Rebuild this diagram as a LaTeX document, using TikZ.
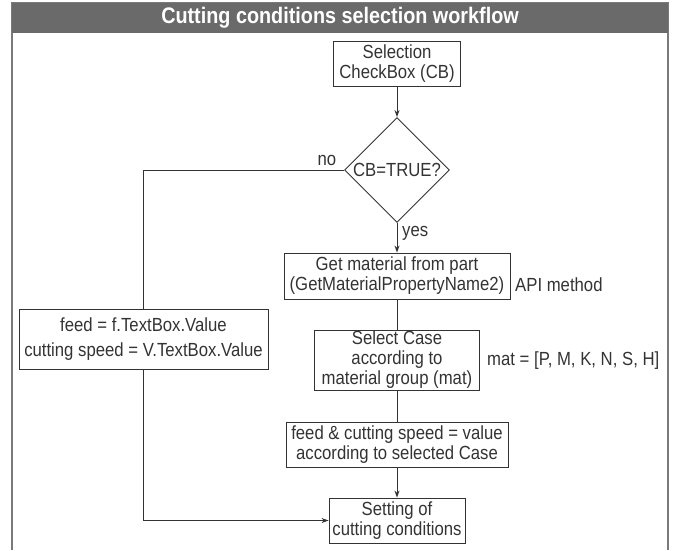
\documentclass[tikz,border=0pt]{standalone}
\usepackage{fontspec}
\setmainfont{Liberation Sans}[FakeStretch=0.88]
\usetikzlibrary{arrows.meta,shapes.geometric}
\definecolor{headgray}{HTML}{6A6A6A}
\definecolor{framegray}{HTML}{7A7A7A}
\definecolor{linegray}{HTML}{333333}
\tikzset{
  flowbox/.style={draw=linegray, line width=0.9pt, align=center, inner sep=0pt,
                  text=linegray, font=\fontsize{19}{20}\selectfont},
  flowdec/.style={draw=linegray, line width=0.9pt, diamond, aspect=1, inner sep=0pt,
                  minimum size=105pt, text=linegray, font=\fontsize{19}{20}\selectfont},
  flowlabel/.style={text=linegray, inner sep=0pt, font=\fontsize{19}{20}\selectfont},
  flowarrow/.style={draw=linegray, line width=0.9pt, -{Stealth[length=7pt,width=5pt]}},
  flowline/.style={draw=linegray, line width=0.9pt}
}
\begin{document}
\begin{tikzpicture}[x=1pt,y=-1pt]
        \useasboundingbox (0,0) rectangle (673,550);
        % frame and header
        \draw[framegray, line width=1.6pt] (12,550) -- (12,3) -- (668,3) -- (668,550);
        \fill[headgray] (12,3) rectangle (668,33);
        \node[text=white, font=\bfseries\fontsize{22.5}{24}\selectfont] (title) at (340,18) {Cutting conditions selection workflow};
        % steps
        \node[flowbox, minimum width=127pt, minimum height=45pt] (sel) at (397,63.5) {Selection\\CheckBox (CB)};
        \node[flowdec] (dec) at (397,170) {CB=TRUE?};
        \node[flowbox, minimum width=226pt, minimum height=46pt] (getm) at (397,276) {Get material from part\\(GetMaterialPropertyName2)};
        \node[flowbox, minimum width=165pt, minimum height=60pt] (selc) at (397,360) {Select Case\\according to\\material group (mat)};
        \node[flowbox, minimum width=222pt, minimum height=45pt] (fcs) at (397,444.5) {feed \& cutting speed = value\\according to selected Case};
        \node[flowbox, minimum width=136pt, minimum height=45pt] (setc) at (397,520.5) {Setting of\\cutting conditions};
        \node[flowbox, minimum width=249pt, minimum height=60pt] (lbox) at (143.5,339) {feed = f.TextBox.Value\\[5pt]cutting speed = V.TextBox.Value};
        % side notes
        \node[flowlabel, anchor=west] (api) at (515,285) {API method};
        \node[flowlabel, anchor=west] (mat) at (487,361) {mat = [P, M, K, N, S, H]};
        \node[flowlabel] (no) at (327,160) {no};
        \node[flowlabel, anchor=west] (yes) at (402,233) {yes};
        % connectors
        \draw[flowarrow] (sel) -- (dec);
        \draw[flowline] (dec.west) -- (lbox.north |- dec.west) -- (lbox.north);
        \draw[flowarrow] (dec) -- (getm);
        \draw[flowline] (getm) -- (selc);
        \draw[flowline] (selc) -- (fcs);
        \draw[flowarrow] (fcs) -- (setc);
        \draw[flowarrow] (lbox.south) -- (lbox.south |- setc.west) -- (setc.west);
    \end{tikzpicture}
\end{document}
